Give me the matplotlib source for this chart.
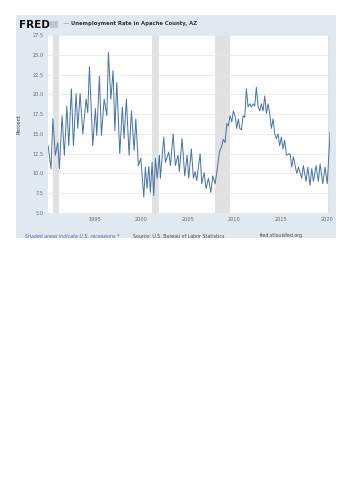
import matplotlib
matplotlib.use('Agg')
import matplotlib.pyplot as plt
from matplotlib.patches import Rectangle

# monthly-ish readings of the series (decimal year, percent)
years = [1990.01, 1990.33, 1990.52, 1990.79, 1991.05, 1991.22, 1991.51, 1991.76,
         1992.02, 1992.23, 1992.51, 1992.73, 1993.02, 1993.20, 1993.45, 1993.74,
         1994.09, 1994.27, 1994.45, 1994.81, 1995.09, 1995.24, 1995.52, 1995.74,
         1996.03, 1996.32, 1996.49, 1996.75, 1996.99, 1997.18, 1997.39, 1997.71,
         1997.99, 1998.17, 1998.42, 1998.71, 1998.96, 1999.25, 1999.43, 1999.71,
         1999.97, 2000.29, 2000.46, 2000.64, 2000.83, 2001.00, 2001.18, 2001.36,
         2001.54, 2001.72, 2001.97, 2002.07, 2002.44, 2002.61, 2002.97, 2003.15,
         2003.44, 2003.68, 2003.97, 2004.11, 2004.40, 2004.69, 2004.94, 2005.12,
         2005.40, 2005.62, 2005.80, 2005.98, 2006.34, 2006.52, 2006.77, 2006.98,
         2007.23, 2007.49, 2007.70, 2007.95, 2008.13, 2008.41, 2008.67, 2008.84,
         2009.02, 2009.21, 2009.38, 2009.56, 2009.74, 2009.91, 2010.09, 2010.28,
         2010.45, 2010.60, 2010.77, 2010.96, 2011.14, 2011.31, 2011.49, 2011.68,
         2011.85, 2012.03, 2012.21, 2012.38, 2012.57, 2012.75, 2012.92, 2013.10,
         2013.29, 2013.46, 2013.64, 2013.82, 2014.00, 2014.18, 2014.36, 2014.53,
         2014.71, 2014.89, 2015.07, 2015.25, 2015.43, 2015.61, 2016.00, 2016.19,
         2016.36, 2016.72, 2016.90, 2017.26, 2017.43, 2017.72, 2017.91, 2018.15,
         2018.33, 2018.51, 2018.80, 2019.04, 2019.23, 2019.52, 2019.76, 2020.00,
         2020.30]
rate = [13.5, 10.6, 16.9, 12.3, 13.9, 10.6, 17.3, 12.3,
        18.5, 13.5, 20.7, 13.5, 20.1, 15.7, 20.1, 15.0,
        19.4, 17.7, 23.5, 13.5, 18.2, 14.8, 22.3, 14.8,
        19.4, 17.3, 25.3, 19.4, 23.0, 15.4, 21.5, 12.5,
        18.4, 14.4, 19.4, 12.3, 17.9, 12.9, 16.9, 11.0,
        11.9, 7.0, 10.8, 8.1, 10.9, 7.6, 11.4, 7.2,
        11.9, 9.4, 12.3, 9.4, 14.6, 11.4, 12.7, 11.0,
        15.0, 11.0, 12.3, 10.2, 14.4, 9.7, 12.3, 9.4,
        13.1, 9.4, 10.2, 9.1, 12.5, 8.7, 10.1, 8.1,
        9.4, 7.6, 9.7, 8.7, 10.1, 12.7, 13.5, 14.3,
        13.9, 16.3, 16.0, 17.3, 16.5, 17.9, 17.3, 15.7,
        16.9, 15.7, 15.5, 17.3, 17.1, 20.7, 18.4, 18.8,
        18.4, 18.8, 18.5, 20.9, 18.4, 17.9, 18.8, 17.9,
        19.8, 17.6, 18.8, 17.6, 15.7, 16.9, 15.0, 14.4,
        15.0, 13.5, 14.6, 13.1, 14.2, 12.3, 12.5, 10.8,
        12.1, 10.0, 10.8, 9.4, 11.0, 9.0, 10.8, 8.5,
        10.6, 9.0, 11.0, 9.0, 11.2, 8.7, 10.8, 8.7,
        15.2]

recessions = [(1990.5, 1991.2), (2001.2, 2001.9), (2007.95, 2009.5), (2020.1, 2020.3)]
yticks = [5.0, 7.5, 10.0, 12.5, 15.0, 17.5, 20.0, 22.5, 25.0, 27.5]
xticks = [1995, 2000, 2005, 2010, 2015, 2020]

line_color = '#4572a7'
panel_color = '#e1e9f0'
text_gray = '#666666'

fig = plt.figure(figsize=(3.53, 5.0), dpi=100)
fig.patch.set_facecolor('white')

# light blue panel behind the chart
fig.patches.append(Rectangle((0.045, 0.524), 0.907, 0.446, transform=fig.transFigure,
                             facecolor=panel_color, edgecolor='none', zorder=0))

ax = fig.add_axes([0.136, 0.574, 0.799, 0.356])
ax.set_zorder(2)
ax.set_facecolor('white')
for a, b in recessions:
    ax.axvspan(a, b, color='#e1e1e1', lw=0, zorder=1)
ax.plot(years, rate, color=line_color, lw=0.7, zorder=3)

ax.set_xlim(1990.0, 2020.3)
ax.set_ylim(5.0, 27.5)
ax.set_yticks(yticks)
ax.set_yticklabels(['%.1f' % v for v in yticks])
ax.set_xticks(xticks)
ax.tick_params(axis='both', labelsize=3.6, colors=text_gray, length=0, pad=3)
ax.grid(axis='y', color='#e6e6e6', lw=0.5, zorder=0)
for s in ax.spines.values():
    s.set_visible(False)
ax.set_ylabel('Percent', fontsize=3.8, color='#444444', labelpad=8)

# header
fig.text(0.055, 0.951, 'FRED', fontsize=7.5, fontweight='bold', color='#111111', va='center', zorder=3)
fig.patches.append(Rectangle((0.141, 0.944), 0.022, 0.014, transform=fig.transFigure,
                             facecolor='#b9c7d6', edgecolor='none', zorder=3))
fig.text(0.177, 0.952, '\u2014', fontsize=4.5, color=line_color, va='center', zorder=3)
fig.text(0.2, 0.952, 'Unemployment Rate in Apache County, AZ', fontsize=3.8,
         fontweight='bold', color='#333333', va='center', zorder=3)

# footer
fig.text(0.07, 0.528, 'Shaded areas indicate U.S. recessions *', fontsize=3.4,
         style='italic', color='#3c6a9e', va='center', zorder=3)
fig.text(0.377, 0.528, 'Source: U.S. Bureau of Labor Statistics', fontsize=3.4,
         color='#444444', va='center', zorder=3)
fig.text(0.737, 0.528, 'fred.stlouisfed.org', fontsize=3.4, color='#444444', va='center', zorder=3)

fig.savefig('out.png', dpi=100, facecolor='white')
